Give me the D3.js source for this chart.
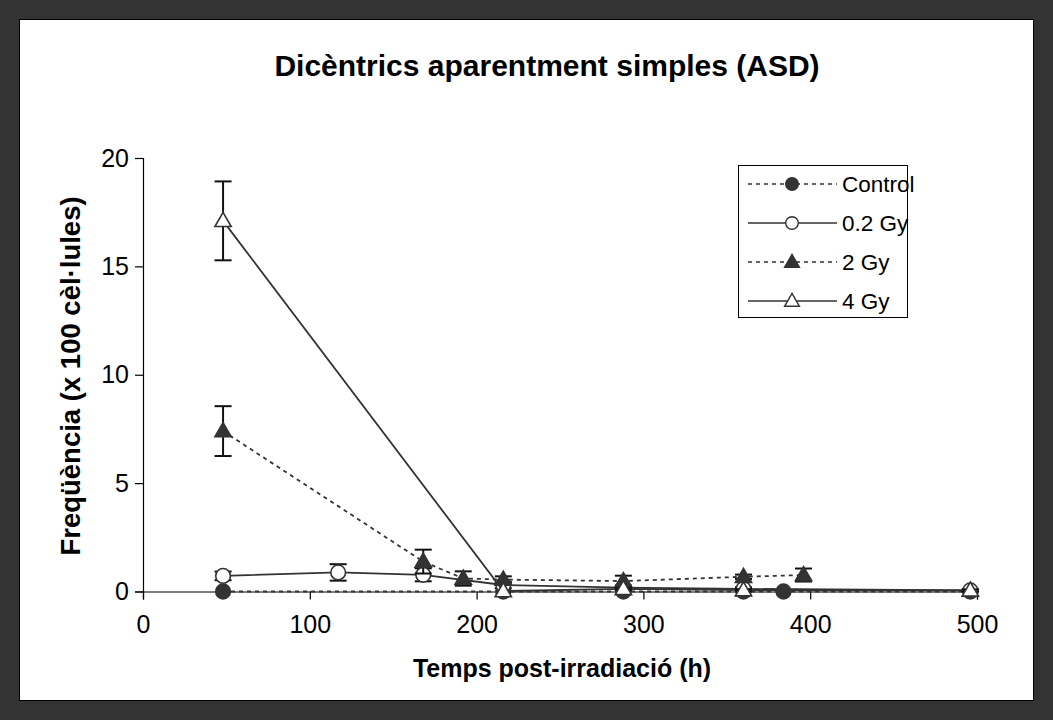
<!DOCTYPE html>
<html><head><meta charset="utf-8">
<script src="https://cdn.jsdelivr.net/npm/d3@7"></script>
<style>html,body{margin:0;padding:0;background:#fff}svg{display:block}text{font-family:"Liberation Sans",Arial,sans-serif}</style>
</head><body><svg id="c" width="1053" height="720"></svg>
<script>
const title = "Dicèntrics aparentment simples (ASD)";
const xLabel = "Temps post-irradiació  (h)";
const yLabel = "Freqüència (x 100 cèl·lules)";
const xTicks = [0, 100, 200, 300, 400, 500];
const yTicks = [0, 5, 10, 15, 20];
const seriesNames = ["Control", "0.2 Gy", "2 Gy", "4 Gy"];

const controlX = [48, 216, 288, 360, 384, 496];
const controlY = [0, 0, 0, 0, 0, 0];
const controlErr = [0, 0, 0, 0, 0, 0];

const gy02X = [48, 117, 168, 216, 288, 360, 496];
const gy02Y = [0.72, 0.88, 0.77, 0.3, 0.18, 0.12, 0.05];
const gy02Err = [0.2, 0.38, 0.3, 0.15, 0.1, 0.08, 0.05];

const gy2X = [48, 168, 192, 216, 288, 360, 396];
const gy2Y = [7.4, 1.38, 0.6, 0.55, 0.48, 0.68, 0.76];
const gy2Err = [1.15, 0.55, 0.33, 0.15, 0.25, 0.1, 0.3];

const gy4X = [48, 216, 288, 360, 496];
const gy4Y = [17.1, 0.02, 0.12, 0.06, 0.05];
const gy4Err = [1.82, 0, 0.05, 0.05, 0.05];

const svg = d3.select("#c");
const W = 1053, H = 720;
svg.append("rect").attr("x",0).attr("y",0).attr("width",W).attr("height",H).attr("fill","#333");
svg.append("rect").attr("x",19.5).attr("y",19.5).attr("width",W-39).attr("height",H-39)
  .attr("fill","#fff").attr("stroke","#000").attr("stroke-width",1);

const x = d3.scaleLinear().domain([0,500]).range([143,977]);
const y = d3.scaleLinear().domain([0,20]).range([591.5,158]);

svg.append("text").attr("x",547).attr("y",76).attr("text-anchor","middle")
  .attr("font-size",30).attr("font-weight","bold").text(title);

const xAxis = svg.append("g").attr("transform","translate(0,591.5)")
  .call(d3.axisBottom(x).tickValues(xTicks).tickSize(8).tickPadding(16).tickFormat(d3.format("d")));
const yAxis = svg.append("g").attr("transform","translate(143,0)")
  .call(d3.axisLeft(y).tickValues(yTicks).tickSize(8).tickPadding(6).tickFormat(d3.format("d")));
[xAxis,yAxis].forEach(a=>{
  a.select(".domain").attr("stroke","#000").attr("stroke-width",1.2);
  a.selectAll(".tick line").attr("stroke","#000").attr("stroke-width",1.2);
  a.selectAll("text").attr("font-size",25).attr("fill","#000")
   .attr("font-family",'"Liberation Sans",Arial,sans-serif');
});

svg.append("text").attr("x",562).attr("y",677).attr("text-anchor","middle")
  .attr("font-size",25).attr("font-weight","bold").text(xLabel);
svg.append("text").attr("transform","translate(80,376) rotate(-90)").attr("text-anchor","middle")
  .attr("font-size",27.5).attr("font-weight","bold").text(yLabel);

const series = [
  {name:seriesNames[0], xs:controlX, ys:controlY, err:controlErr, dash:"4,4", marker:"circle", fill:"#333"},
  {name:seriesNames[1], xs:gy02X, ys:gy02Y, err:gy02Err, dash:null, marker:"circle", fill:"#fff"},
  {name:seriesNames[2], xs:gy2X, ys:gy2Y, err:gy2Err, dash:"4,4", marker:"triangle", fill:"#333"},
  {name:seriesNames[3], xs:gy4X, ys:gy4Y, err:gy4Err, dash:null, marker:"triangle", fill:"#fff"}
];
const sym = {circle: d3.symbol().type(d3.symbolCircle).size(170),
             triangle: d3.symbol().type(d3.symbolTriangle).size(115)};
const line = d3.line().x(d=>x(d[0])).y(d=>y(d[1]));

series.forEach(s=>{
  const pts = s.xs.map((v,i)=>[v,s.ys[i],s.err[i]]);
  const g = svg.append("g");
  g.append("path").attr("d",line(pts)).attr("fill","none").attr("stroke","#333")
    .attr("stroke-width",1.8).attr("stroke-dasharray",s.dash);
  pts.filter(p=>p[2]>0).forEach(p=>{
    const cx=x(p[0]), y1=y(p[1]+p[2]), y2=y(p[1]-p[2]);
    g.append("line").attr("x1",cx).attr("x2",cx).attr("y1",y1).attr("y2",y2).attr("stroke","#111").attr("stroke-width",2);
    [y1,y2].forEach(yy=>g.append("line").attr("x1",cx-8.5).attr("x2",cx+8.5).attr("y1",yy).attr("y2",yy).attr("stroke","#111").attr("stroke-width",2));
  });
  g.selectAll("path.m").data(pts).join("path").attr("class","m")
    .attr("transform",d=>`translate(${x(d[0])},${y(d[1])+(s.marker==="triangle"?1:0)})`)
    .attr("d",sym[s.marker]).attr("fill",s.fill).attr("stroke","#333").attr("stroke-width",1.6);
});

const lg = svg.append("g");
lg.append("rect").attr("x",738.5).attr("y",165.5).attr("width",169).attr("height",152)
  .attr("fill","#fff").attr("stroke","#000").attr("stroke-width",1);
const legY = [184, 223, 262, 301];
const legSym = {circle: d3.symbol().type(d3.symbolCircle).size(125),
                triangle: d3.symbol().type(d3.symbolTriangle).size(95)};
series.forEach((s,i)=>{
  const yy = legY[i];
  lg.append("line").attr("x1",748).attr("x2",837).attr("y1",yy).attr("y2",yy)
    .attr("stroke","#333").attr("stroke-width",1.5).attr("stroke-dasharray",s.dash);
  lg.append("path").attr("transform",`translate(792,${yy+(s.marker==="triangle"?1:0)})`)
    .attr("d",legSym[s.marker]).attr("fill",s.fill).attr("stroke","#333").attr("stroke-width",1.4);
  lg.append("text").attr("x",842).attr("y",yy+8).attr("font-size",22.5).text(s.name);
});
</script></body></html>
